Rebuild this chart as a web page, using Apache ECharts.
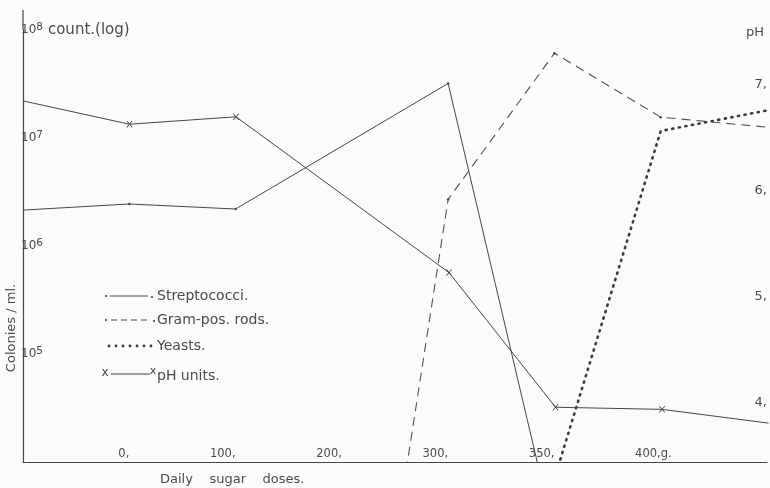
<!DOCTYPE html>
<html>
<head>
<meta charset="utf-8">
<script src="https://cdn.jsdelivr.net/npm/echarts@6/dist/echarts.min.js"></script>
<style>
html,body{margin:0;padding:0;background:#fbfbfb;}
#chart{width:770px;height:488px;}
</style>
</head>
<body>
<div id="chart"></div>
<script>
// ---- data (x index: 0..5 = doses; -1 and 6 = left/right frame edges) ----
const doseLabels = ['0,', '100,', '200,', '300,', '350,', '400,'];
const doseUnit = 'g.';
const streptoX = [-1, 0, 1, 3, 4];
const streptoY = [2.15e6, 2.45e6, 2.2e6, 3.2e7, 2.1e3];
const gramX = [2, 3, 4, 5, 6];
const gramY = [1.2, 2.7e6, 6.1e7, 1.56e7, 1.26e7];
const yeastX = [4, 5, 6];
const yeastY = [7.0e3, 1.16e7, 1.8e7];
const phX = [-1, 0, 1, 3, 4, 5, 6];
const phY = [6.85, 6.63, 6.70, 5.23, 3.96, 3.94, 3.81];
const phTickLabels = {4: '4,', 5: '5,', 6: '6,', 7: '7,'};
const legendNames = ['Streptococci.', 'Gram-pos. rods.', 'Yeasts.', 'pH units.'];

const FONT = 'DejaVu Sans';
const INK = '#464646';
const TXT = '#4a4a4a';

function pts(xs, ys) {
  return xs.map((x, i) => {
    const d = {value: [x, ys[i]]};
    if (x < 0 || x > 5) d.symbol = 'none';
    return d;
  });
}
const xMark = 'path://M0,0.9 L0.9,0 L5,4.1 L9.1,0 L10,0.9 L5.9,5 L10,9.1 L9.1,10 L5,5.9 L0.9,10 L0,9.1 L4.1,5 Z';

const chart = echarts.init(document.getElementById('chart'), null, {renderer: 'canvas'});

// legend drawing (decoration)
const lg = [];
const lx = 106, ly = [296, 320, 346, 373];
// Streptococci
lg.push({type:'circle', shape:{cx:lx, cy:ly[0], r:1.1}, style:{fill:INK}});
lg.push({type:'line', shape:{x1:lx+4, y1:ly[0], x2:lx+42, y2:ly[0]}, style:{stroke:INK, lineWidth:1}});
lg.push({type:'circle', shape:{cx:lx+46, cy:ly[0]+1, r:1.1}, style:{fill:INK}});
// Gram-pos
lg.push({type:'circle', shape:{cx:lx, cy:ly[1], r:1.1}, style:{fill:INK}});
lg.push({type:'line', shape:{x1:lx+5, y1:ly[1], x2:lx+44, y2:ly[1]}, style:{stroke:INK, lineWidth:1, lineDash:[6,4]}});
lg.push({type:'circle', shape:{cx:lx+48, cy:ly[1]+1, r:1.1}, style:{fill:INK}});
// Yeasts
for (let i = 0; i < 7; i++) {
  lg.push({type:'circle', shape:{cx:lx+3+i*7, cy:ly[2], r:1.4}, style:{fill:'#3a3a3a'}});
}
// pH
lg.push({type:'text', style:{x:lx-1, y:ly[3], text:'x', font:'12px ' + FONT, fill:INK, textAlign:'center', textVerticalAlign:'middle'}});
lg.push({type:'line', shape:{x1:lx+5, y1:ly[3]+1, x2:lx+44, y2:ly[3]+1}, style:{stroke:INK, lineWidth:1.2}});
lg.push({type:'text', style:{x:lx+47, y:ly[3]-2, text:'x', font:'11px ' + FONT, fill:INK, textAlign:'center', textVerticalAlign:'middle'}});
legendNames.forEach((n, i) => {
  lg.push({type:'text', style:{x:157, y:ly[i] + (i === 3 ? 3 : 0), text:n, font:'14px ' + FONT, fill:TXT, textVerticalAlign:'middle'}});
});

const option = {
  backgroundColor: '#fbfbfb',
  animation: false,
  grid: [
    {left: 23, right: -2, top: 30, bottom: 26},
    {left: 23, right: -2, top: 32, bottom: 32}
  ],
  xAxis: [
    {
      type: 'value', gridIndex: 0, min: -1, max: 6, interval: 1,
      axisLine: {show: true, onZero: false, lineStyle: {color: INK, width: 1.2}},
      axisTick: {show: false}, splitLine: {show: false},
      axisLabel: {
        inside: true, margin: 2, align: 'right', showMinLabel: true, showMaxLabel: true,
        fontFamily: FONT, fontSize: 11.5, color: TXT,
        formatter: v => (v < 0 || v > 5) ? '' : doseLabels[v]
      }
    },
    {type: 'value', gridIndex: 1, min: -1, max: 6, show: false},
    {
      type: 'value', gridIndex: 0, min: -1, max: 6, interval: 1, position: 'bottom',
      axisLine: {show: false, onZero: false}, axisTick: {show: false}, splitLine: {show: false},
      axisLabel: {
        inside: true, margin: 2, align: 'left', showMinLabel: true, showMaxLabel: true,
        fontFamily: FONT, fontSize: 11.5, color: TXT,
        formatter: v => v === 5 ? doseUnit : ''
      }
    }
  ],
  yAxis: [
    {
      type: 'log', logBase: 10, gridIndex: 0, min: 1e4, max: 1e8,
      axisLine: {show: true, onZero: false, lineStyle: {color: INK, width: 1.2}},
      axisTick: {show: false}, splitLine: {show: false}, minorTick: {show: false},
      axisLabel: {
        inside: true, margin: -2, align: 'left', showMinLabel: true, showMaxLabel: true,
        formatter: v => {
          const e = Math.round(Math.log10(v));
          if (e <= 4) return '';
          if (e === 8) return '{b|10}{s|8}{c|count.(log)}';
          return '{b|10}{s|' + e + '}';
        },
        rich: {
          b: {fontFamily: FONT, fontSize: 12, color: TXT, lineHeight: 16},
          s: {fontFamily: FONT, fontSize: 10.5, color: TXT, verticalAlign: 'top', lineHeight: 10, padding: [0, 5, 0, 0]},
          c: {fontFamily: FONT, fontSize: 15, color: TXT, lineHeight: 16}
        }
      }
    },
    {
      type: 'value', gridIndex: 1, min: 3.5, max: 7.5, interval: 0.5, position: 'right',
      axisLine: {show: false}, axisTick: {show: false}, splitLine: {show: false},
      axisLabel: {
        inside: true, margin: 14, align: 'left', fontFamily: FONT, fontSize: 13, color: TXT,
        showMinLabel: true, showMaxLabel: true,
        formatter: v => {
          const r = Math.round(v);
          return Math.abs(v - r) < 1e-6 ? (phTickLabels[r] || '') : '';
        }
      }
    }
  ],
  series: [
    {
      name: 'Streptococci.', type: 'line', xAxisIndex: 0, yAxisIndex: 0,
      data: pts(streptoX, streptoY), clip: true,
      lineStyle: {color: INK, width: 1},
      symbol: 'circle', symbolSize: 2.5, itemStyle: {color: INK}
    },
    {
      name: 'Gram-pos. rods.', type: 'line', xAxisIndex: 0, yAxisIndex: 0,
      data: pts(gramX, gramY), clip: true,
      lineStyle: {color: '#505050', width: 1.1, type: [9, 6]},
      symbol: 'circle', symbolSize: 2.5, itemStyle: {color: INK}
    },
    {
      name: 'Yeasts.', type: 'line', xAxisIndex: 0, yAxisIndex: 0,
      data: pts(yeastX, yeastY), clip: true,
      lineStyle: {color: '#3a3a3a', width: 2.6, type: [1.2, 5.5], cap: 'round'},
      symbol: 'none'
    },
    {
      name: 'pH units.', type: 'line', xAxisIndex: 1, yAxisIndex: 1,
      data: pts(phX, phY), clip: false,
      lineStyle: {color: INK, width: 1},
      symbol: xMark, symbolSize: [6, 7], itemStyle: {color: INK}
    }
  ],
  graphic: [
    {type: 'line', shape: {x1: 23, y1: 10, x2: 23, y2: 30}, style: {stroke: INK, lineWidth: 1.2}},
    {type: 'text', style: {x: 12, y: 328, text: 'Colonies / ml.', font: '13px ' + FONT, fill: TXT, textAlign: 'center', textVerticalAlign: 'middle'}, rotation: Math.PI / 2, originX: 12, originY: 328},
    {type: 'text', style: {x: 160, y: 480, text: 'Daily    sugar    doses.', font: '13px ' + FONT, fill: TXT, textVerticalAlign: 'middle'}},
    {type: 'text', style: {x: 746, y: 33, text: 'pH', font: '13px ' + FONT, fill: TXT, textVerticalAlign: 'middle'}}
  ].concat(lg)
};
chart.setOption(option);
</script>
</body>
</html>
